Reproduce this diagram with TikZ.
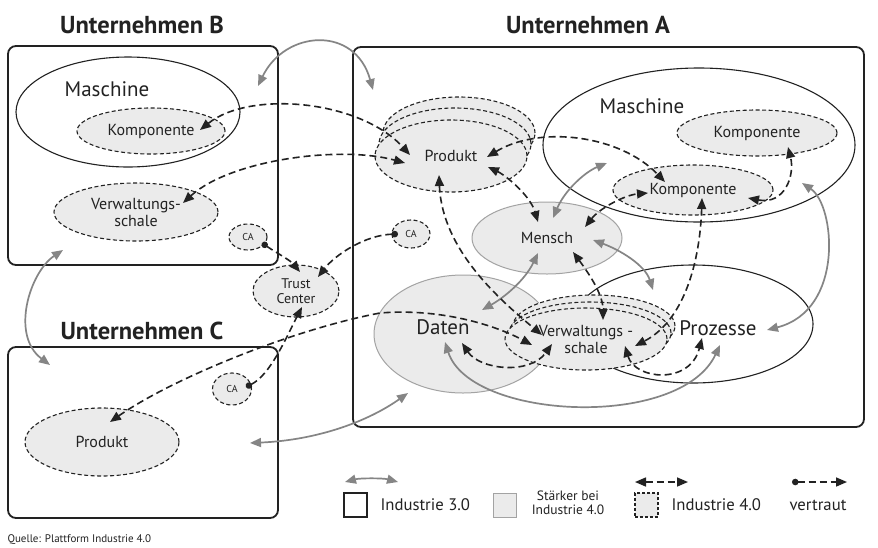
\documentclass[tikz,border=0pt]{standalone}
\usepackage{fontspec}
\setmainfont{PT Sans}
\usetikzlibrary{arrows.meta,shapes.geometric}
\definecolor{lineblk}{HTML}{222222}
\definecolor{fillg}{HTML}{EBEBEB}
\definecolor{arrg}{HTML}{858585}
\definecolor{grayb}{HTML}{A3A3A3}
\tikzset{
  compbox/.style={rectangle, draw=lineblk, line width=1.8pt, rounded corners=8pt, inner sep=0pt},
  ttl/.style={font=\fontsize{24.5}{27}\selectfont\bfseries, text=lineblk},
  bigtxt/.style={font=\fontsize{21}{23}\selectfont, text=lineblk},
  midtxt/.style={font=\fontsize{16}{17}\selectfont, text=lineblk, align=center},
  smalltxt/.style={font=\fontsize{14}{15}\selectfont, text=lineblk, align=center},
  tinytxt/.style={font=\fontsize{10}{11}\selectfont, text=lineblk},
  solidell/.style={ellipse, draw=lineblk, line width=1.1pt, inner sep=0pt},
  dashell/.style={ellipse, draw=lineblk, line width=1.1pt, dash pattern=on 4pt off 2.5pt, fill=fillg, inner sep=0pt, align=center},
  grayell/.style={ellipse, draw=grayb, line width=1pt, fill=fillg, inner sep=0pt},
  tipA/.tip={Triangle[length=11pt,width=9pt]},
  ithree/.style={draw=arrg, line width=1.7pt, tipA-tipA},
  ifour/.style={draw=lineblk, line width=1.6pt, dash pattern=on 7pt off 4pt, tipA-tipA},
  trusted/.style={draw=lineblk, line width=1.6pt, dash pattern=on 7pt off 4pt, {Circle[length=6.5pt]}-tipA},
}
\begin{document}
\begin{tikzpicture}[x=1pt,y=-1pt]
\useasboundingbox (0,0) rectangle (878,547);
\fill[white] (0,0) rectangle (878,547);

% ---------------- Unternehmen B
\node[ttl] (tB) at (142,25) {Unternehmen B};
\node[compbox, minimum width=270, minimum height=219] (boxB) at (143,155.5) {};
\node[solidell, minimum width=224, minimum height=110] (maschB) at (128,112) {};
\node[bigtxt] (maschBt) at (107,89) {Maschine};
\node[dashell, minimum width=148, minimum height=46, midtxt] (kompB) at (151,131) {Komponente};
\node[dashell, minimum width=164, minimum height=58, midtxt] (vsB) at (136,212) {Verwaltungs-\\schale};
\node[dashell, minimum width=38, minimum height=26, tinytxt] (caB) at (248,237) {CA};

% ---------------- Trust center
\node[dashell, minimum width=86, minimum height=52, smalltxt] (trust) at (296,291) {Trust\\Center};

% ---------------- Unternehmen C
\node[ttl] (tC) at (142,331) {Unternehmen C};
\node[compbox, minimum width=270, minimum height=171] (boxC) at (143,432.5) {};
\node[dashell, minimum width=154, minimum height=68, midtxt] (prodC) at (102,442) {Produkt};
\node[dashell, minimum width=39, minimum height=32, tinytxt] (caC) at (232,389) {CA};

% ---------------- Unternehmen A
\node[ttl] (tA) at (588,25) {Unternehmen A};
\node[compbox, minimum width=511, minimum height=380] (boxA) at (608.5,237) {};
\node[dashell, minimum width=38, minimum height=28, tinytxt] (caA) at (411,234) {CA};
\node[solidell, minimum width=312, minimum height=154] (maschA) at (699,145) {};
\node[bigtxt] (maschAt) at (642,106) {Maschine};
\node[dashell, minimum width=160, minimum height=46, midtxt] (kompA1) at (757,133) {Komponente};
\node[dashell, minimum width=160, minimum height=50, midtxt] (kompA2) at (693,190) {Komponente};
\node[dashell, minimum width=152, minimum height=72] (prodA3) at (459,133) {};
\node[dashell, minimum width=152, minimum height=72] (prodA2) at (455,144) {};
\node[dashell, minimum width=152, minimum height=72, midtxt] (prodA) at (451,156) {Produkt};
\node[grayell, minimum width=150, minimum height=72, midtxt] (mensch) at (547,238) {Mensch};
\node[solidell, minimum width=240, minimum height=118] (proz) at (693,324) {};
\node[bigtxt] (prozt) at (718,328) {Prozesse};
\node[grayell, minimum width=178, minimum height=118] (daten) at (463,334) {};
\node[bigtxt] (datent) at (443,327) {Daten};
\node[dashell, minimum width=162, minimum height=62] (vsA3) at (594,326) {};
\node[dashell, minimum width=162, minimum height=62] (vsA2) at (590,333) {};
\node[dashell, minimum width=162, minimum height=62, midtxt] (vsA) at (586,339) {Verwaltungs -\\schale};

% ---------------- connector end points
\coordinate (g1a) at (258,86);  \coordinate (g1b) at (373,90);
\coordinate (g2a) at (63,250);  \coordinate (g2b) at (50,365);
\coordinate (g3a) at (250,443); \coordinate (g3b) at (408,393);
\coordinate (g4a) at (553,218); \coordinate (g4b) at (607,163);
\coordinate (g5a) at (538,253); \coordinate (g5b) at (482,310);
\coordinate (g6a) at (593,240); \coordinate (g6b) at (653,290);
\coordinate (g7a) at (802,183); \coordinate (g7b) at (767,330);
\coordinate (g8a) at (445,342); \coordinate (g8b) at (720,345);

\coordinate (d9a) at (200,130);  \coordinate (d9b) at (410,155);
\coordinate (d10a) at (183,203); \coordinate (d10b) at (405,163);
\coordinate (d11a) at (487,157); \coordinate (d11b) at (665,182);
\coordinate (d12a) at (488,167); \coordinate (d12b) at (538,222);
\coordinate (d13a) at (439,175); \coordinate (d13b) at (542,335);
\coordinate (d14a) at (585,227); \coordinate (d14b) at (648,193);
\coordinate (d15a) at (748,198); \coordinate (d15b) at (788,147);
\coordinate (d16a) at (702,198); \coordinate (d16b) at (635,346);
\coordinate (d17a) at (573,252); \coordinate (d17b) at (603,320);
\coordinate (d18a) at (462,343); \coordinate (d18b) at (552,344);
\coordinate (d19a) at (625,346); \coordinate (d19b) at (702,338);
\coordinate (d20a) at (110,422); \coordinate (d20m) at (380,313); \coordinate (d20b) at (532,345);

\coordinate (v21a) at (262,243); \coordinate (v21b) at (300,272);
\coordinate (v22a) at (398,234); \coordinate (v22b) at (318,277);
\coordinate (v23a) at (246,387); \coordinate (v23b) at (302,307);

% ---------------- Industrie 3.0 connectors (grey)
\draw[ithree] (g1a) .. controls (285,30) and (355,25) .. (g1b);
\draw[ithree] (g2a) .. controls (30,272) and (10,335) .. (g2b);
\draw[ithree] (g3a) .. controls (320,440) and (370,420) .. (g3b);
\draw[ithree] (g4a) .. controls (565,190) and (585,172) .. (g4b);
\draw[ithree] (g5a) .. controls (525,280) and (505,297) .. (g5b);
\draw[ithree] (g6a) .. controls (620,250) and (645,265) .. (g6b);
\draw[ithree] (g7a) .. controls (835,205) and (845,310) .. (g7b);
\draw[ithree] (g8a) .. controls (470,420) and (680,430) .. (g8b);

% ---------------- Industrie 4.0 connectors (dashed)
\draw[ifour] (d9a) .. controls (250,90) and (360,100) .. (d9b);
\draw[ifour] (d10a) .. controls (230,160) and (340,145) .. (d10b);
\draw[ifour] (d11a) .. controls (540,125) and (620,135) .. (d11b);
\draw[ifour] (d12a) .. controls (505,175) and (530,195) .. (d12b);
\draw[ifour] (d13a) .. controls (442,250) and (500,300) .. (d13b);
\draw[ifour] (d14a) .. controls (600,208) and (625,195) .. (d14b);
\draw[ifour] (d15a) .. controls (785,205) and (795,175) .. (d15b);
\draw[ifour] (d16a) .. controls (700,260) and (685,320) .. (d16b);
\draw[ifour] (d17a) .. controls (590,275) and (603,295) .. (d17b);
\draw[ifour] (d18a) .. controls (480,370) and (530,375) .. (d18b);
\draw[ifour] (d19a) .. controls (635,380) and (690,385) .. (d19b);
\draw[ifour] (d20a) .. controls (170,380) and (290,330) .. (d20m) .. controls (440,308) and (495,325) .. (d20b);

% ---------------- trusted connectors
\draw[trusted] (v21a) .. controls (275,252) and (290,260) .. (v21b);
\draw[trusted] (v22a) .. controls (365,235) and (335,255) .. (v22b);
\draw[trusted] (v23a) .. controls (270,375) and (285,340) .. (v23b);

% ---------------- legend
\coordinate (l1a) at (345,482); \coordinate (l1b) at (398,482);
\coordinate (l2a) at (635,482); \coordinate (l2b) at (688,482);
\coordinate (l3a) at (792,482); \coordinate (l3b) at (847,482);
\draw[ithree] (l1a) .. controls (360,478) and (383,478) .. (l1b);
\draw[ifour] (l2a) -- (l2b);
\draw[trusted] (l3a) -- (l3b);
\node[rectangle, draw=lineblk, line width=1.2pt, minimum width=23, minimum height=24, inner sep=0pt] (lsq1) at (355.5,505) {};
\node[midtxt, anchor=west, font=\fontsize{16.7}{18}\selectfont] (lt1) at (377,505) {Industrie 3.0};
\node[rectangle, draw=grayb, line width=1pt, fill=fillg, minimum width=23, minimum height=24, inner sep=0pt] (lsq2) at (505,505) {};
\node[smalltxt, font=\fontsize{13.5}{14.5}\selectfont] (lt2) at (568,503) {Stärker bei\\Industrie 4.0};
\node[rectangle, draw=lineblk, line width=1.1pt, dash pattern=on 3pt off 2pt, fill=fillg, minimum width=23, minimum height=24, inner sep=0pt] (lsq3) at (646.5,505) {};
\node[midtxt, anchor=west, font=\fontsize{16.7}{18}\selectfont] (lt3) at (668,505) {Industrie 4.0};
\node[midtxt, font=\fontsize{16.7}{18}\selectfont] (lt4) at (818,505) {vertraut};

\node[anchor=west, font=\fontsize{11}{12}\selectfont, text=lineblk] (src) at (4,540) {Quelle: Plattform Industrie 4.0};
\end{tikzpicture}
\end{document}
